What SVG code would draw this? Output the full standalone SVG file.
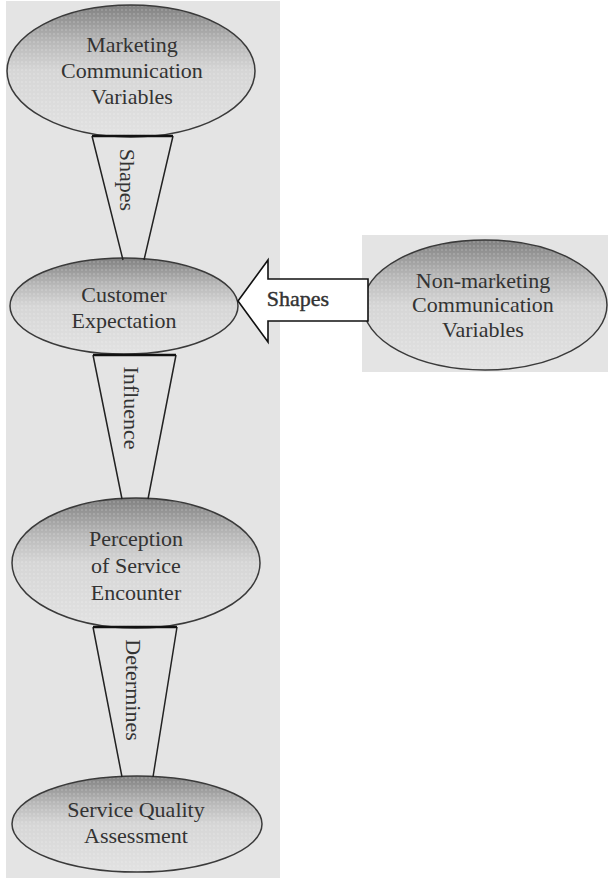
<svg xmlns="http://www.w3.org/2000/svg" width="608" height="879" viewBox="0 0 608 879">
<style>
.panel{fill:#e4e4e4;stroke:none}
.node{stroke:#3a3a3a;stroke-width:1.5}
.lbl{font-family:"Liberation Serif","Times New Roman",serif;font-size:22px;fill:#333;text-anchor:middle}
.edge{fill:none;stroke:#222;stroke-width:1.5}
.top{stroke:#111;stroke-width:2.5}
.arrow{fill:#fff;stroke:#111;stroke-width:1.6}
</style>
<defs>
<linearGradient id="eg" x1="0" y1="0" x2="0" y2="1">
<stop offset="0" stop-color="#808080"/>
<stop offset="0.28" stop-color="#b8b8b8"/>
<stop offset="0.5" stop-color="#d6d6d6"/>
<stop offset="1" stop-color="#e2e2e2"/>
</linearGradient>
<pattern id="dots" width="4" height="4" patternUnits="userSpaceOnUse">
<circle cx="2" cy="2" r="0.9" fill="#ffffff" fill-opacity="0.2"/>
</pattern>
</defs>
<rect class="panel" x="6" y="1" width="274" height="877"/>
<rect class="panel" x="362" y="235" width="246" height="137"/>

<g id="marketing">
<ellipse class="node" cx="131" cy="71" rx="124" ry="66" fill="url(#eg)"/>
<ellipse cx="131" cy="71" rx="123" ry="65" fill="url(#dots)"/>
<text class="lbl" x="132" y="52">Marketing</text>
<text class="lbl" x="132" y="78">Communication</text>
<text class="lbl" x="132" y="104">Variables</text>
</g>
<g id="customer">
<ellipse class="node" cx="124" cy="306" rx="114" ry="48" fill="url(#eg)"/>
<ellipse cx="124" cy="306" rx="113" ry="47" fill="url(#dots)"/>
<text class="lbl" x="124" y="302">Customer</text>
<text class="lbl" x="124" y="328">Expectation</text>
</g>
<g id="perception">
<ellipse class="node" cx="136" cy="563" rx="124" ry="65" fill="url(#eg)"/>
<ellipse cx="136" cy="563" rx="123" ry="64" fill="url(#dots)"/>
<text class="lbl" x="136" y="546">Perception</text>
<text class="lbl" x="136" y="573">of Service</text>
<text class="lbl" x="136" y="600">Encounter</text>
</g>
<g id="service">
<ellipse class="node" cx="137" cy="824" rx="125" ry="48" fill="url(#eg)"/>
<ellipse cx="137" cy="824" rx="124" ry="47" fill="url(#dots)"/>
<text class="lbl" x="136" y="817">Service Quality</text>
<text class="lbl" x="136" y="843">Assessment</text>
</g>
<g id="nonmarketing">
<ellipse class="node" cx="485" cy="305" rx="122" ry="65" fill="url(#eg)"/>
<ellipse cx="485" cy="305" rx="121" ry="64" fill="url(#dots)"/>
<text class="lbl" x="483" y="288">Non-marketing</text>
<text class="lbl" x="483" y="312">Communication</text>
<text class="lbl" x="483" y="337">Variables</text>
</g>

<g id="connectors">
<g id="c-shapes1">
<path class="edge" d="M92,136 L123,260 M173,136 L144,260"/>
<line class="top" x1="92" y1="136" x2="173" y2="136"/>
<text class="lbl" transform="translate(127,180) rotate(90)" dominant-baseline="central">Shapes</text>
</g>
<g id="c-influence">
<path class="edge" d="M93,355 L122,499 M176,355 L148,499"/>
<line class="top" x1="93" y1="355" x2="176" y2="355"/>
<text class="lbl" transform="translate(131,408) rotate(90)" dominant-baseline="central">Influence</text>
</g>
<g id="c-determines">
<path class="edge" d="M93,627 L122,777 M177,627 L153,777"/>
<line class="top" x1="93" y1="627" x2="177" y2="627"/>
<text class="lbl" transform="translate(133,690) rotate(90)" dominant-baseline="central">Determines</text>
</g>
<g id="c-shapes2">
<polygon class="arrow" points="238,301 268,260 268,279 368,279 368,321 268,321 268,342"/>
<text class="lbl" x="298" y="306" stroke="#333" stroke-width="0.4">Shapes</text>
</g>
</g>
</svg>
